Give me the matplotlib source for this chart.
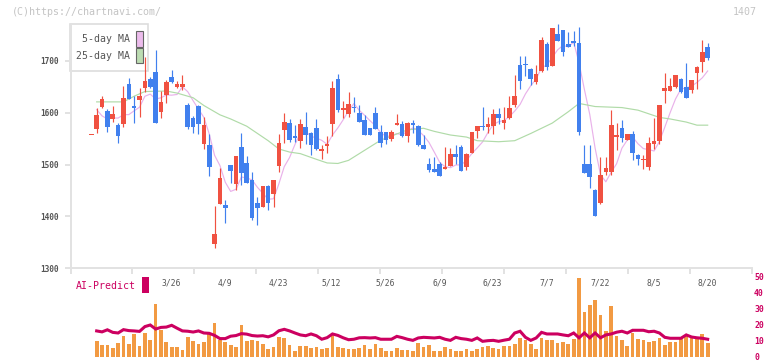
import numpy as np
import matplotlib
matplotlib.use("Agg")
import matplotlib.pyplot as plt
from matplotlib.patches import Rectangle
from matplotlib.transforms import blended_transform_factory

# ---------------- data ----------------
opens = [1558, 1568, 1611, 1603.4, 1588, 1576.3, 1579, 1655.6, 1613, 1624.6,
         1648.5, 1665.2, 1678.7, 1601.5, 1635, 1669, 1650.4, 1650.4, 1615, 1589,
         1613, 1539.6, 1537.7, 1346.4, 1424.3, 1421.7, 1499, 1463, 1533.8, 1502.3,
         1470, 1425.6, 1418.5, 1458.5, 1443.6, 1497.8, 1567.3, 1580, 1555, 1546,
         1572.5, 1561, 1570.5, 1526.7, 1535.8, 1578.3, 1665.2, 1604.7, 1597.6, 1611,
         1599.5, 1586.6, 1570.5, 1599.5, 1562.8, 1562.8, 1549.3, 1576.3, 1578.3, 1555,
         1580.2, 1574.4, 1537.7, 1501, 1491.3, 1501, 1491.3, 1497, 1520.3, 1533.8,
         1495.8, 1522, 1564.7, 1574.4, 1573, 1574.4, 1597.6, 1580.8, 1590, 1615,
         1692.3, 1694.2, 1684.5, 1659.4, 1680.7, 1732.8, 1690.3, 1752.2, 1760, 1732.8,
         1738.6, 1734.8, 1501, 1501, 1450.7, 1425.6, 1485.5, 1485.5, 1553.1, 1570.5,
         1547.4, 1559, 1518.4, 1508.7, 1495.2, 1539.6, 1545.4, 1642, 1642, 1649.8,
         1665.2, 1649.8, 1644, 1676.8, 1698, 1727]
highs = [1558, 1608.5, 1632, 1606.6, 1613, 1579.6, 1652.3, 1666.5, 1632.4, 1647,
         1708.4, 1669.7, 1721.3, 1641.4, 1663.3, 1682, 1661.4, 1673, 1618, 1594,
         1615, 1592.4, 1559, 1420.5, 1494, 1430.8, 1499, 1516.4, 1561, 1517,
         1486, 1438, 1459, 1461, 1470, 1559.6, 1600, 1588.6, 1577, 1588,
         1601.5, 1563.5, 1588, 1537.7, 1554.4, 1661.4, 1675.5, 1622.7, 1640.7, 1630.4,
         1615, 1595.7, 1570.5, 1610.5, 1576.3, 1562.8, 1566, 1597.6, 1584, 1582,
         1586, 1576, 1557, 1512.6, 1515, 1504.2, 1533.8, 1532.5, 1537.7, 1537.7,
         1522, 1562.8, 1574.4, 1610.5, 1591.8, 1608, 1609.2, 1610.5, 1632.4, 1673,
         1709.7, 1709.7, 1686, 1692.3, 1746.4, 1736.7, 1763.8, 1771.5, 1760, 1756,
         1758, 1765.7, 1537.7, 1537.7, 1452.7, 1514.5, 1514.5, 1605.3, 1580.2, 1586,
         1559, 1564.7, 1520, 1518.4, 1553.1, 1589.9, 1615, 1676.8, 1667.2, 1673,
         1668, 1696, 1663.3, 1690.3, 1740.6, 1734.8]
lows = [1558, 1560, 1610, 1563.5, 1582.8, 1542.2, 1571.8, 1626.6, 1579.6, 1592.4,
        1640.7, 1647, 1580.8, 1590.5, 1618.2, 1656.8, 1648.5, 1644, 1568.6, 1561,
        1558.3, 1530, 1478.4, 1338.7, 1423, 1387.6, 1463.6, 1450, 1461, 1465,
        1392.8, 1383.7, 1418.5, 1412.7, 1418.5, 1486, 1541.6, 1544, 1544, 1532.5,
        1539.6, 1519, 1528, 1511.3, 1522.2, 1555.7, 1601.5, 1589.9, 1592.4, 1600.8,
        1582, 1557, 1557.6, 1568.6, 1533.2, 1539, 1546, 1576.3, 1554, 1544,
        1561.5, 1535.8, 1530, 1485.5, 1485.5, 1478.4, 1491.3, 1497, 1501, 1487.4,
        1489.4, 1522, 1550.6, 1567.3, 1561.5, 1559.6, 1578.3, 1568.6, 1587.3, 1611,
        1646, 1671, 1653.6, 1655.6, 1678.7, 1682.6, 1690.3, 1739.3, 1710.3, 1727,
        1729, 1557, 1483, 1455.2, 1400.5, 1423.7, 1479.7, 1479.7, 1528, 1543.5,
        1547.4, 1508.7, 1499, 1491.3, 1489.4, 1530, 1539.6, 1618.8, 1642, 1647.8,
        1638.2, 1628.5, 1638.2, 1645.9, 1678.7, 1702]
closes = [1558, 1595.7, 1626.6, 1573, 1597.6, 1555.7, 1628.5, 1627.2, 1609.8, 1632.4,
          1661.4, 1649.1, 1580.8, 1620.8, 1660, 1659.4, 1655.6, 1655, 1573, 1573,
          1578.3, 1576.3, 1495.8, 1365.7, 1474, 1416.6, 1488, 1516.4, 1484.2, 1465,
          1397.3, 1416.6, 1459, 1426.3, 1470, 1541.6, 1582, 1548, 1552, 1578.3,
          1557, 1537.7, 1530, 1530.6, 1539.6, 1647.8, 1605.3, 1609.2, 1616.9, 1609.8,
          1582, 1557, 1557.6, 1568.6, 1541.6, 1547.3, 1562, 1580.2, 1555, 1580.2,
          1576.3, 1537.7, 1530, 1489.4, 1485.5, 1478.4, 1495.8, 1520.3, 1515, 1487.4,
          1520.3, 1562.8, 1574.4, 1573, 1578.3, 1597.6, 1590, 1586.6, 1610, 1632.4,
          1661.4, 1691.6, 1665.9, 1674.9, 1740.6, 1689, 1763.8, 1739.3, 1717.4, 1727,
          1734.8, 1562.8, 1483, 1476.5, 1400.5, 1479.7, 1493.2, 1576.3, 1557, 1551.2,
          1559, 1522.2, 1510.6, 1510.6, 1541.6, 1545.4, 1615, 1647.8, 1651.7, 1673,
          1640, 1628.5, 1663.3, 1688.4, 1717.4, 1705.8]

# 5-day MA (from candle 1 on)
ma5 = [1606, 1594, 1588, 1590, 1589.7, 1596.3, 1596.4, 1603.8, 1610.7, 1631.9,
       1636.0, 1626.7, 1628.9, 1634.4, 1634.0, 1635.3, 1650.2, 1640.6, 1623.2, 1607.0,
       1591.1, 1559.3, 1517.8, 1498.0, 1465.7, 1448.0, 1452.1, 1475.8, 1474.0, 1470.2,
       1455.9, 1444.4, 1432.8, 1433.8, 1462.7, 1495.8, 1513.6, 1538.7, 1560.4, 1563.5,
       1554.6, 1551.0, 1546.7, 1539.0, 1557.1, 1570.7, 1586.5, 1603.8, 1617.8, 1604.6,
       1595.0, 1584.7, 1575.0, 1561.4, 1554.4, 1555.4, 1559.9, 1557.2, 1564.9, 1570.7,
       1565.9, 1555.8, 1542.7, 1523.8, 1504.2, 1495.8, 1493.9, 1499.0, 1499.4, 1507.8,
       1521.2, 1532.0, 1543.6, 1561.8, 1577.2, 1582.7, 1585.1, 1592.5, 1603.3, 1616.1,
       1636.4, 1652.3, 1665.2, 1686.9, 1692.4, 1706.8, 1721.5, 1730.0, 1727.3, 1736.5,
       1696.3, 1645.0, 1596.8, 1531.5, 1480.5, 1466.6, 1485.2, 1501.3, 1531.5, 1547.3,
       1553.1, 1540.0, 1530.7, 1528.8, 1526.1, 1544.6, 1572.1, 1600.3, 1626.6, 1645.5,
       1648.2, 1651.3, 1658.6, 1667.5, 1680.7]

# 25-day MA, read at these candle positions
ma25_idx = [1, 6, 8, 10, 14, 16, 19, 21, 24, 26, 29, 31, 33, 35, 37, 39, 42, 44, 46,
            48, 50, 52, 54, 57, 59, 62, 64, 67, 70, 72, 76, 79, 82, 86, 89, 91, 94,
            99, 102, 106, 108, 111, 113, 115]
ma25_val = [1621, 1621, 1632, 1641, 1642, 1638, 1629, 1614, 1596, 1588, 1574, 1560,
            1546, 1530, 1524, 1521, 1510, 1503, 1502, 1508, 1521, 1534, 1547, 1559,
            1567, 1570, 1564, 1557, 1553, 1546, 1544, 1546, 1560, 1580, 1602, 1618,
            1612, 1610, 1605, 1591, 1588, 1582, 1576, 1576]

# volume (from candle 1 on)
volume = [10.0, 7.5, 7.3, 5.4, 8.5, 12.9, 7.9, 14.2, 6.7, 14.8,
          10.4, 32.9, 16.7, 9.2, 6.0, 6.0, 4.2, 12.3, 9.8, 7.9,
          9.2, 14.8, 21.0, 10.4, 9.2, 7.3, 6.0, 19.8, 9.8, 10.4,
          9.8, 7.9, 4.8, 6.0, 12.3, 11.7, 7.3, 3.5, 6.7, 6.7,
          5.4, 6.0, 4.8, 5.4, 14.2, 6.0, 5.4, 4.8, 4.8, 5.4,
          7.3, 4.8, 7.9, 5.4, 3.5, 3.5, 5.4, 4.2, 4.2, 3.5,
          8.6, 6.1, 7.3, 3.5, 3.5, 6.1, 4.8, 3.5, 3.5, 4.8,
          3.5, 4.8, 6.1, 6.7, 5.4, 4.8, 6.7, 6.7, 7.9, 11.7,
          10.4, 7.9, 4.8, 11.7, 10.4, 10.4, 8.6, 9.2, 7.9, 11.1,
          49.2, 27.9, 32.3, 35.4, 26.0, 16.0, 31.7, 12.9, 10.4, 6.7,
          14.8, 11.1, 10.4, 9.2, 9.8, 11.7, 7.3, 9.2, 9.2, 11.7,
          13.6, 12.9, 11.7, 14.2, 8.6]

# AI-Predict (from candle 1 on)
ai_predict = [16.3, 15.7, 17.0, 15.4, 15.0, 17.1, 16.5, 16.3, 16.0, 19.0,
              20.0, 17.5, 18.5, 18.7, 19.8, 18.0, 16.3, 16.1, 15.6, 16.3,
              15.0, 14.8, 13.5, 11.5, 11.5, 13.0, 13.4, 14.6, 14.3, 13.4,
              13.1, 13.3, 12.6, 13.8, 16.4, 17.3, 16.3, 15.0, 13.8, 13.3,
              14.4, 13.3, 11.1, 12.1, 14.4, 13.5, 12.0, 10.8, 11.1, 12.0,
              12.1, 11.9, 12.1, 11.1, 11.1, 11.1, 12.9, 12.1, 11.1, 10.4,
              11.9, 12.3, 12.1, 11.9, 12.3, 11.1, 10.4, 12.3, 11.5, 11.1,
              10.4, 11.9, 9.8, 10.2, 10.4, 9.8, 10.5, 11.1, 15.0, 16.1,
              12.3, 10.4, 11.9, 15.4, 14.4, 14.4, 14.4, 13.8, 13.3, 15.0,
              12.0, 15.0, 12.0, 15.0, 12.0, 13.8, 14.4, 15.5, 16.1, 15.0,
              16.7, 16.7, 16.7, 15.8, 16.1, 15.0, 12.3, 11.7, 11.7, 11.7,
              13.8, 12.5, 12.0, 11.7, 11.1]

date_labels = ["3/26", "4/9", "4/23", "5/12", "5/26", "6/9", "6/23", "7/7", "7/22", "8/5", "8/20"]
date_pos = [15, 25, 35, 45, 55, 65, 75, 85, 95, 105, 115]
price_ticks = [1300, 1400, 1500, 1600, 1700]
sub_ticks = [0, 10, 20, 30, 40, 50]

# ---------------- styling ----------------
W, H = 772, 361
RED = "#f05141"
BLUE = "#4180ee"
CRIMSON = "#cc0060"
ORANGE = "#f29a42"
GRID = "#e2e2e2"
MONO = "DejaVu Sans Mono"

fig = plt.figure(figsize=(W / 100, H / 100), dpi=100)
fig.patch.set_facecolor("white")


def fx(px):
    return px / W


def fy(py):
    return 1 - py / H


ax = fig.add_axes([fx(70.5), fy(268), fx(752) - fx(70.5), fy(24) - fy(268)])
ax2 = fig.add_axes([fx(70.5), fy(357), fx(752) - fx(70.5), fy(276) - fy(357)])
for a in (ax, ax2):
    a.set_facecolor("none")

o = np.array(opens)
h = np.array(highs)
l = np.array(lows)
c = np.array(closes)
x = np.arange(len(c))
up = c >= o
cols = np.where(up, RED, BLUE)

XMIN, XMAX = -3.88, 123.27

# wicks
ax.vlines(x, l, h, colors=cols, linewidth=0.85, zorder=3)
# bodies
bot = np.minimum(o, c)
hgt = np.maximum(np.abs(c - o), 1.6)
ax.bar(x, hgt, bottom=bot - np.where(np.abs(c - o) < 1.6, 0.8, 0), width=0.86,
       color=cols, linewidth=0, zorder=4)

# moving averages
ax.plot(np.arange(1, len(ma5) + 1), ma5, color="#e9b2ea", lw=0.85, zorder=2)
ax.plot(ma25_idx, ma25_val, color="#b0dba8", lw=0.85, zorder=2)

ax.set_xlim(XMIN, XMAX)
ax.set_ylim(1300, 1300 + 244 / 0.5175)
ax.set_yticks(price_ticks)
ax.set_yticklabels([str(t) for t in price_ticks], fontfamily=MONO, fontsize=5.6,
                   color="#555555", fontweight="bold")
ax.set_xticks(np.linspace(XMIN, XMAX, 12))
ax.set_xticklabels([])
ax.tick_params(axis="y", length=4, width=1.4, color=GRID, pad=4.5)
ax.tick_params(axis="x", length=4.5, width=1.4, color=GRID)
for s in ("top", "right"):
    ax.spines[s].set_visible(False)
for s in ("left", "bottom"):
    ax.spines[s].set_color(GRID)
    ax.spines[s].set_linewidth(1.4)

trans = blended_transform_factory(ax.transData, fig.transFigure)
for lab, p in zip(date_labels, date_pos):
    ax.text(p - 0.15 * (len(lab) - 3), fy(282.5), lab, transform=trans, ha="center",
            va="center", fontfamily=MONO, fontsize=5.8, color="#555555")

# ---------------- lower panel ----------------
ax2.bar(np.arange(1, len(volume) + 1), volume, width=0.69, color=ORANGE,
        linewidth=0, zorder=2)
ax2.plot(np.arange(1, len(ai_predict) + 1), ai_predict, color=CRIMSON, lw=2.2,
         solid_joinstyle="miter", zorder=3)
ax2.set_xlim(XMIN, XMAX)
ax2.set_ylim(0, 81 / 1.6)
ax2.set_xticks([])
ax2.yaxis.tick_right()
ax2.set_yticks(sub_ticks)
ax2.set_yticklabels([str(t) for t in sub_ticks], fontfamily=MONO, fontsize=5.9,
                    color=CRIMSON, fontweight="bold")
ax2.tick_params(axis="y", length=0, pad=1.5)
for s in ax2.spines.values():
    s.set_visible(False)

# ---------------- texts, legend ----------------
fig.text(fx(12), fy(12), "(C)https://chartnavi.com/", fontfamily=MONO, fontsize=7.2,
         color="#c4c4c4", va="center", ha="left")
fig.text(fx(757), fy(12), "1407", fontfamily=MONO, fontsize=7.2, color="#c4c4c4",
         va="center", ha="right")

fig.patches.append(Rectangle((fx(70.3), fy(71)), fx(148.3) - fx(70.3), fy(24) - fy(71),
                             transform=fig.transFigure, facecolor="white",
                             edgecolor="#dddddd", lw=1.2, zorder=-2))
fig.text(fx(130), fy(39.5), "5-day MA", fontfamily=MONO, fontsize=7.1, color="#555555",
         ha="right", va="center", zorder=-1)
fig.text(fx(130), fy(56), "25-day MA", fontfamily=MONO, fontsize=7.1, color="#555555",
         ha="right", va="center", zorder=-1)
fig.patches.append(Rectangle((fx(136.3), fy(46.5)), fx(142.7) - fx(136.3), fy(31.3) - fy(46.5),
                             transform=fig.transFigure, facecolor="#ecbcec",
                             edgecolor="#666666", lw=0.8, zorder=-1))
fig.patches.append(Rectangle((fx(136.3), fy(63.2)), fx(142.7) - fx(136.3), fy(48.3) - fy(63.2),
                             transform=fig.transFigure, facecolor="#bcdcb2",
                             edgecolor="#666666", lw=0.8, zorder=-1))

fig.text(fx(76), fy(286), "AI-Predict", fontfamily=MONO, fontsize=7.1, color=CRIMSON,
         ha="left", va="center")
fig.patches.append(Rectangle((fx(142.3), fy(292.7)), fx(148.7) - fx(142.3), fy(276.7) - fy(292.7),
                             transform=fig.transFigure, facecolor=CRIMSON,
                             edgecolor="none", zorder=3))

fig.savefig("out.png", dpi=100, facecolor="white")
